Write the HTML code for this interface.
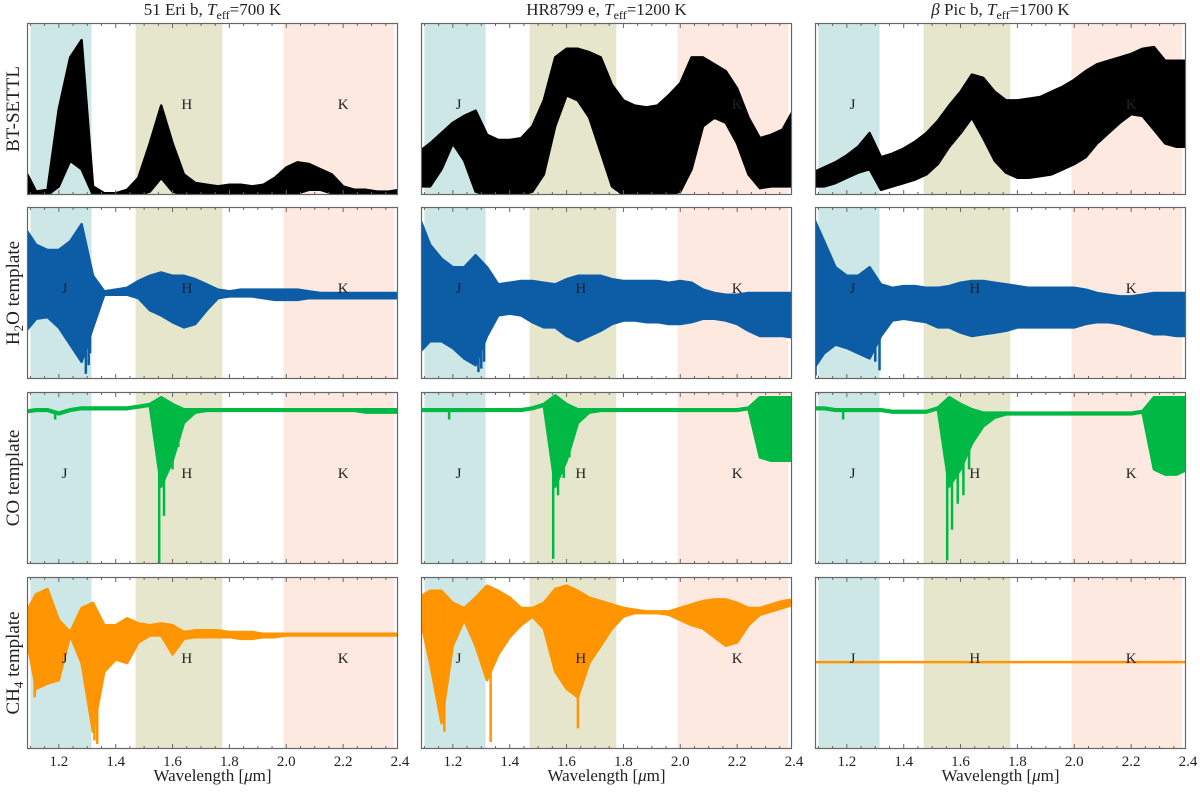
<!DOCTYPE html>
<html><head><meta charset="utf-8"><style>
body{margin:0;background:#fff;}
svg text{font-family:"Liberation Serif","DejaVu Serif",serif;fill:#222;}
</style></head><body>
<svg id="fig" width="1200" height="794" viewBox="0 0 1200 794" xmlns="http://www.w3.org/2000/svg"></svg>
<script>
// ---- data ----
const WL = [1.08,1.12,1.16,1.20,1.24,1.28,1.32,1.36,1.40,1.44,1.48,1.52,1.56,1.60,1.64,1.68,1.72,1.76,1.80,1.84,1.88,1.92,1.96,2.00,2.04,2.08,2.12,2.16,2.20,2.24,2.28,2.32,2.36,2.40];
const xTicks = [1.2,1.4,1.6,1.8,2.0,2.2,2.4];
const xTickLabels = ["1.2","1.4","1.6","1.8","2.0","2.2","2.4"];
const bandNames = ["J","H","K"];
const bandStart = [1.10,1.47,1.99];
const bandEnd = [1.315,1.775,2.38];
const bandLabelWl = [1.22,1.65,2.20];
const titles = ["51 Eri b","HR8799 e","β Pic b"];
const teffs = ["700","1200","1700"];
const rowLabels = ["BT-SETTL","H2O template","CO template","CH4 template"];

// row 1: BT-SETTL
const settlEriHi = [0.15,0.02,0.03,0.5,0.8,0.9,0.05,0.01,0.01,0.03,0.1,0.3,0.52,0.3,0.12,0.07,0.06,0.05,0.06,0.06,0.05,0.06,0.1,0.16,0.19,0.18,0.15,0.12,0.05,0.03,0.03,0.02,0.02,0.03];
const settlEriLo = [0,0,0,0.05,0.2,0.15,0,0,0,0,0,0.02,0.1,0.02,0,0,0,0,0,0,0,0,0,0,0.01,0.03,0.03,0.01,0,0,0,0,0,0];
const settlHrHi = [0.25,0.3,0.36,0.42,0.46,0.49,0.35,0.32,0.32,0.33,0.4,0.55,0.8,0.85,0.85,0.83,0.8,0.64,0.55,0.52,0.51,0.52,0.58,0.65,0.8,0.8,0.76,0.72,0.62,0.45,0.33,0.35,0.38,0.5];
const settlHrLo = [0.05,0.05,0.15,0.3,0.2,0.02,0,0,0,0,0.02,0.12,0.4,0.58,0.55,0.45,0.25,0.05,0,0,0,0,0,0.02,0.15,0.4,0.45,0.42,0.3,0.12,0.04,0.05,0.05,0.05];
const settlPicHi = [0.13,0.16,0.19,0.23,0.28,0.36,0.22,0.24,0.27,0.31,0.36,0.43,0.52,0.6,0.7,0.68,0.6,0.55,0.55,0.56,0.57,0.6,0.63,0.67,0.72,0.76,0.78,0.8,0.82,0.85,0.86,0.78,0.78,0.78];
const settlPicLo = [0.05,0.05,0.07,0.1,0.13,0.15,0.03,0.05,0.07,0.09,0.12,0.18,0.28,0.36,0.45,0.33,0.2,0.13,0.1,0.1,0.11,0.12,0.15,0.18,0.22,0.3,0.36,0.42,0.47,0.46,0.38,0.3,0.28,0.28];
// row 2: H2O
const h2oEriHi = [0.88,0.78,0.75,0.75,0.8,0.9,0.6,0.51,0.52,0.53,0.57,0.6,0.62,0.6,0.6,0.58,0.55,0.52,0.51,0.52,0.52,0.52,0.52,0.52,0.52,0.51,0.5,0.5,0.5,0.5,0.5,0.5,0.5,0.5];
const h2oEriLo = [0.27,0.35,0.36,0.3,0.2,0.1,0.3,0.49,0.49,0.49,0.47,0.4,0.37,0.33,0.3,0.32,0.4,0.47,0.48,0.48,0.48,0.47,0.46,0.46,0.46,0.47,0.47,0.47,0.47,0.47,0.47,0.47,0.47,0.47];
const h2oHrHi = [0.95,0.78,0.7,0.65,0.65,0.72,0.65,0.55,0.56,0.57,0.57,0.56,0.55,0.58,0.6,0.6,0.6,0.58,0.57,0.57,0.57,0.57,0.56,0.57,0.56,0.52,0.5,0.49,0.49,0.5,0.5,0.5,0.5,0.5];
const h2oHrLo = [0.15,0.22,0.22,0.18,0.12,0.08,0.25,0.37,0.38,0.37,0.33,0.3,0.3,0.25,0.22,0.25,0.28,0.32,0.34,0.34,0.33,0.33,0.32,0.32,0.33,0.35,0.35,0.34,0.32,0.28,0.25,0.25,0.25,0.24];
const h2oPicHi = [0.95,0.8,0.65,0.6,0.6,0.65,0.55,0.53,0.54,0.54,0.53,0.53,0.54,0.56,0.57,0.57,0.56,0.55,0.54,0.53,0.53,0.53,0.53,0.53,0.52,0.5,0.49,0.48,0.48,0.49,0.5,0.5,0.5,0.5];
const h2oPicLo = [0.05,0.15,0.2,0.18,0.15,0.12,0.25,0.34,0.35,0.34,0.33,0.3,0.3,0.27,0.25,0.26,0.27,0.28,0.3,0.3,0.3,0.3,0.3,0.3,0.32,0.33,0.33,0.32,0.3,0.28,0.26,0.26,0.25,0.25];
// row 3: CO
const coEriHi = [0.89,0.9,0.9,0.88,0.9,0.91,0.91,0.91,0.91,0.91,0.92,0.93,0.97,0.93,0.9,0.9,0.9,0.9,0.9,0.9,0.9,0.9,0.9,0.9,0.9,0.9,0.9,0.9,0.9,0.9,0.9,0.9,0.9,0.9];
const coEriLo = [0.88,0.89,0.89,0.87,0.89,0.9,0.9,0.9,0.9,0.9,0.91,0.92,0.45,0.6,0.82,0.88,0.89,0.89,0.89,0.89,0.89,0.89,0.89,0.89,0.89,0.89,0.89,0.89,0.89,0.89,0.88,0.88,0.88,0.88];
const coHrHi = [0.9,0.9,0.9,0.9,0.9,0.9,0.9,0.9,0.9,0.9,0.91,0.93,0.98,0.93,0.9,0.9,0.9,0.9,0.9,0.9,0.9,0.9,0.9,0.9,0.9,0.9,0.9,0.9,0.9,0.91,0.97,0.97,0.97,0.97];
const coHrLo = [0.89,0.89,0.89,0.89,0.89,0.89,0.89,0.89,0.89,0.89,0.9,0.92,0.45,0.6,0.82,0.88,0.89,0.89,0.89,0.89,0.89,0.89,0.89,0.89,0.89,0.89,0.89,0.89,0.89,0.9,0.62,0.6,0.6,0.6];
const coPicHi = [0.91,0.91,0.9,0.9,0.9,0.9,0.9,0.89,0.89,0.89,0.89,0.91,0.97,0.93,0.9,0.88,0.88,0.88,0.88,0.88,0.88,0.88,0.88,0.88,0.88,0.88,0.88,0.88,0.88,0.89,0.97,0.97,0.97,0.97];
const coPicLo = [0.9,0.9,0.89,0.89,0.89,0.89,0.89,0.88,0.88,0.88,0.88,0.9,0.45,0.55,0.7,0.8,0.85,0.87,0.87,0.87,0.87,0.87,0.87,0.87,0.87,0.87,0.87,0.87,0.87,0.88,0.55,0.52,0.52,0.55];
// row 4: CH4
const ch4EriHi = [0.78,0.9,0.93,0.75,0.68,0.82,0.85,0.72,0.72,0.76,0.73,0.72,0.73,0.72,0.68,0.69,0.69,0.69,0.68,0.68,0.68,0.67,0.67,0.67,0.67,0.67,0.67,0.67,0.67,0.67,0.67,0.67,0.67,0.67];
const ch4EriLo = [0.7,0.35,0.38,0.4,0.66,0.5,0.1,0.45,0.52,0.5,0.62,0.66,0.66,0.55,0.64,0.65,0.65,0.65,0.65,0.64,0.64,0.65,0.65,0.66,0.66,0.66,0.66,0.66,0.66,0.66,0.66,0.66,0.66,0.66];
const ch4HrHi = [0.88,0.92,0.92,0.85,0.82,0.88,0.95,0.92,0.88,0.82,0.82,0.85,0.93,0.95,0.92,0.88,0.86,0.84,0.82,0.81,0.8,0.8,0.8,0.82,0.84,0.86,0.87,0.87,0.85,0.82,0.82,0.84,0.86,0.87];
const ch4HrLo = [0.8,0.5,0.15,0.6,0.75,0.6,0.4,0.55,0.65,0.72,0.77,0.7,0.45,0.35,0.3,0.5,0.6,0.7,0.77,0.79,0.79,0.79,0.78,0.75,0.72,0.7,0.65,0.6,0.62,0.72,0.78,0.8,0.82,0.84];
const ch4PicHi = [0.505,0.505,0.505,0.505,0.505,0.505,0.505,0.505,0.505,0.505,0.505,0.505,0.505,0.505,0.505,0.505,0.505,0.505,0.505,0.505,0.505,0.505,0.505,0.505,0.505,0.505,0.505,0.505,0.505,0.505,0.505,0.505,0.505,0.505];
const ch4PicLo = [0.505,0.505,0.505,0.505,0.505,0.505,0.505,0.505,0.505,0.505,0.505,0.505,0.505,0.505,0.505,0.505,0.505,0.505,0.505,0.505,0.505,0.505,0.505,0.505,0.505,0.505,0.505,0.505,0.505,0.505,0.505,0.505,0.505,0.505];
// narrow absorption spikes: wavelength / minimum value
const spikeWlEriH2O = [1.295,1.305,1.31]; const spikeMinEriH2O = [0.03,0.08,0.15];
const spikeWlHrH2O = [1.29,1.30,1.31]; const spikeMinHrH2O = [0.04,0.06,0.1];
const spikeWlPicH2O = [1.09,1.315,1.30]; const spikeMinPicH2O = [0.02,0.05,0.1];
const spikeWlEriCO = [1.187,1.553,1.57,1.60,1.62]; const spikeMinEriCO = [0.84,0.0,0.28,0.55,0.68];
const spikeWlHrCO = [1.187,1.553,1.57,1.59,1.61]; const spikeMinHrCO = [0.84,0.03,0.4,0.5,0.62];
const spikeWlPicCO = [1.187,1.553,1.57,1.59,1.61,1.63]; const spikeMinPicCO = [0.84,0.02,0.2,0.35,0.4,0.55];
const spikeWlEriCH4 = [1.115,1.325,1.335]; const spikeMinEriCH4 = [0.3,0.05,0.03];
const spikeWlHrCH4 = [1.17,1.333,1.64]; const spikeMinHrCH4 = [0.1,0.04,0.12];
const spikeWlPicCH4 = []; const spikeMinPicCH4 = [];

// ---- geometry ----
const colLeft = [27,421,815], PW = 371, rowTop = [23,207,392,577], PH = 172;
const XMIN = 1.088, XMAX = 2.393;
const colors = ["#000000","#0C5DA5","#00B945","#FF9500"];
const panels = [
 [[settlEriHi,settlEriLo,[],[]],[settlHrHi,settlHrLo,[],[]],[settlPicHi,settlPicLo,[],[]]],
 [[h2oEriHi,h2oEriLo,spikeWlEriH2O,spikeMinEriH2O],[h2oHrHi,h2oHrLo,spikeWlHrH2O,spikeMinHrH2O],[h2oPicHi,h2oPicLo,spikeWlPicH2O,spikeMinPicH2O]],
 [[coEriHi,coEriLo,spikeWlEriCO,spikeMinEriCO],[coHrHi,coHrLo,spikeWlHrCO,spikeMinHrCO],[coPicHi,coPicLo,spikeWlPicCO,spikeMinPicCO]],
 [[ch4EriHi,ch4EriLo,spikeWlEriCH4,spikeMinEriCH4],[ch4HrHi,ch4HrLo,spikeWlHrCH4,spikeMinHrCH4],[ch4PicHi,ch4PicLo,spikeWlPicCH4,spikeMinPicCH4]]
];
const NS = "http://www.w3.org/2000/svg";
const svg = document.getElementById("fig");
function mk(tag, attrs, parent){const e=document.createElementNS(NS,tag);for(const k in attrs)e.setAttribute(k,attrs[k]);(parent||svg).appendChild(e);return e;}
function xs(c,w){return colLeft[c]+(w-XMIN)/(XMAX-XMIN)*PW;}
function ys(r,v){return rowTop[r]+PH-v*PH;}
function interp(arr,w){
  for(let i=0;i<WL.length-1;i++){
    if(w>=WL[i] && w<=WL[i+1]){const t=(w-WL[i])/(WL[i+1]-WL[i]);return arr[i]*(1-t)+arr[i+1]*t;}
  }
  return arr[arr.length-1];
}

const defs = mk("defs",{});
for(let r=0;r<4;r++)for(let c=0;c<3;c++){
  const cp = mk("clipPath",{id:`cp${r}${c}`},defs);
  mk("rect",{x:colLeft[c],y:rowTop[r],width:PW,height:PH},cp);
}
const bandColors = ["#cde6e6","#e6e6cd","#fde9e0"];

for(let r=0;r<4;r++)for(let c=0;c<3;c++){
  const g = mk("g",{});
  
  
  for(let b=0;b<3;b++){
    const rect = mk("rect",{x:xs(c,bandStart[b]),y:rowTop[r],width:xs(c,bandEnd[b])-xs(c,bandStart[b]),height:PH,fill:bandColors[b]},g);
    
    
  }
  const [hi,lo,sw,sm] = panels[r][c];
  const sg = mk("g",{"clip-path":`url(#cp${r}${c})`},g);
  let pts = WL.map((w,i)=>`${xs(c,w).toFixed(1)},${ys(r,hi[i]).toFixed(1)}`);
  for(let i=WL.length-1;i>=0;i--) pts.push(`${xs(c,WL[i]).toFixed(1)},${ys(r,lo[i]).toFixed(1)}`);
  const poly = mk("polygon",{points:pts.join(" "),fill:colors[r],stroke:colors[r],"stroke-width":2.5,"stroke-linejoin":"round"},sg);
  
  
  for(let k=0;k<sw.length;k++){
    const top = interp(hi,sw[k]);
    const ln = mk("line",{x1:xs(c,sw[k]),x2:xs(c,sw[k]),y1:ys(r,top),y2:ys(r,sm[k]),stroke:colors[r],"stroke-width":2.5},sg);
    
    
  }
  for(let b=0;b<3;b++){
    if(r===0 && c===0 && b===0) continue;
    if(r===0 && b===1 && c>0) continue;
    const t = mk("text",{x:xs(c,bandLabelWl[b]),y:rowTop[r]+86,"font-size":15,"text-anchor":"middle"},g);
    t.textContent = bandNames[b];
    
    
  }
  const fr = mk("rect",{x:colLeft[c]+0.5,y:rowTop[r]+0.5,width:PW-1,height:PH-1,fill:"none",stroke:"#666","stroke-width":1.2},g);
  
  
  for(let k=0;k<27;k++){
    const w = 1.10 + k*0.05;
    if(w>XMAX) break;
    const major = Math.abs((w*10)%2)<0.01 || Math.abs((w*10)%2-2)<0.01;
    const len = major?5:3, x = xs(c,w);
    mk("line",{x1:x,x2:x,y1:rowTop[r]+PH,y2:rowTop[r]+PH-len,stroke:"#666","stroke-width":1},g);
    mk("line",{x1:x,x2:x,y1:rowTop[r],y2:rowTop[r]+len,stroke:"#666","stroke-width":1},g);
  }
  if(r===3){
    xTicks.forEach((w,i)=>{
      const t = mk("text",{x:xs(c,w),y:rowTop[r]+PH+17,"font-size":15,"text-anchor":"middle"},g);
      t.textContent = xTickLabels[i];
      
      
    });
    const xl = mk("text",{x:colLeft[c]+PW/2,y:781,"font-size":17,"text-anchor":"middle"},g);
    xl.innerHTML = 'Wavelength [<tspan font-style="italic">μ</tspan>m]';
    
    
  }
}
for(let c=0;c<3;c++){
  const t = mk("text",{x:colLeft[c]+PW/2,y:15,"font-size":17,"text-anchor":"middle"});
  const nm = c===2 ? '<tspan font-style="italic">β</tspan> Pic b' : titles[c];
  t.innerHTML = `${nm}, <tspan font-style="italic">T</tspan><tspan font-size="12" dy="4">eff</tspan><tspan dy="-4">=${teffs[c]} K</tspan>`;
  
  
}
const rowHtml = ['BT-SETTL','H<tspan font-size="13" dy="4">2</tspan><tspan dy="-4">O template</tspan>','CO template','CH<tspan font-size="13" dy="4">4</tspan><tspan dy="-4"> template</tspan>'];
for(let r=0;r<4;r++){
  const cy = rowTop[r]+PH/2, cx = 19;
  const t = mk("text",{x:cx,y:cy,"font-size":19,"text-anchor":"middle",transform:`rotate(-90 ${cx} ${cy})`});
  t.innerHTML = rowHtml[r];
  
  
}
</script>
</body></html>
